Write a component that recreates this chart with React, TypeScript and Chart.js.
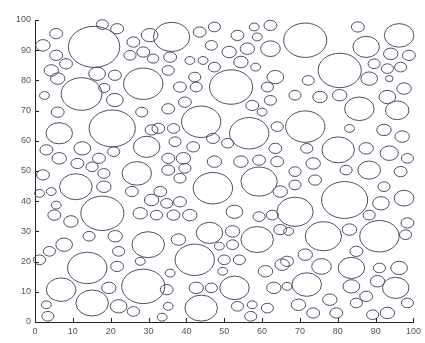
import { useEffect, useRef } from "react";
import { Chart, registerables } from "chart.js";
Chart.register(...registerables);

// circle centres (x, y) and radii, in data units
const circleX = [
  15.6, 17.8, 21.7, 5.6, 2.1, 5.6, 8.2, 4.3, 6.0, 12.3, 16.4, 21.1, 18.3, 21.1, 2.5, 28.6, 30.3, 26, 25.1, 28.6, 31.2, 6.0, 28.2,
  36.1, 43.5, 47.4, 46.6, 53.5, 57.9, 58.7, 62.2, 62.2, 56.1, 51.3, 35.7, 40.9, 44.4, 35.2, 47.4, 54.4, 58.3, 51.8, 42.2, 38.3, 42.6, 63.5, 61.4, 62.2, 39.6, 35.2, 57.4, 60,
  71.4, 85.3, 96.2, 87.5, 94, 98.8, 89.6, 93.1, 96.6, 88.3, 93.6, 80.5, 72.2, 68.7, 75.3, 80.5, 93.1, 97.5, 85.7, 95.7,
  6.4, 20.4, 30.8, 29.5, 3, 12.5, 20.8, 6.4, 11.2, 16.9, 15.1, 18.2, 2.1, 26.9, 10.8, 18.2, 1.2, 4.3, 25.6, 5.6, 5.1, 17.8, 27.8, 30.8, 32.1,
  43.9, 56.6, 32.6, 36.6, 64, 37, 41.8, 47, 50.9, 63.5, 35.2, 39.2, 39.6, 35.2, 47.4, 54.4, 59.2, 64, 38.3, 47, 59.2, 33.1, 64.8, 34.8, 38.3, 40.9, 36.6, 52.7, 59.2, 62.7,
  71.4, 83.1, 92.2, 97, 71.8, 80.1, 87.5, 93.6, 98.4, 73.5, 68.7, 82.2, 88.3, 96.6, 74, 68.7, 92.2, 81.8, 97.5, 91.4, 68.7, 88.3,
  9.5, 14.3, 21.2, 7.7, 3.8, 1.2, 22.1, 29.9, 13.8, 21.7, 27.8, 6.9, 15.1, 19.5, 28.6, 22.1, 3, 3.4, 26, 33.6,
  46.1, 52.2, 58.7, 64.8, 37.9, 48.7, 52.2, 42.2, 50, 54, 49.6, 60.9, 65.3, 35.7, 34.8, 42.6, 46.6, 52.7, 63.1, 35.2, 43.9, 53.5, 57.4, 57, 61.4,
  76.2, 91, 83.1, 97.9, 98.4, 67, 71.4, 84.9, 66.6, 75.7, 83.6, 91, 96.2, 71.8, 83.6, 90.5, 95.3, 77.9, 87.5, 66.6, 69.6, 73.5, 79.6, 84.9, 89.2, 93.1, 98.4,
];
const circleY = [
  91.1, 98.5, 97.1, 95.5, 91.6, 88.3, 85.5, 83.3, 80.6, 75.5, 82.2, 81.7, 77.5, 73.5, 75, 78.9, 95, 92.7, 88.3, 89.4, 87.2, 69.5, 69.5,
  94.4, 96, 97.7, 91.6, 94.9, 97.7, 94.4, 98.2, 90.5, 90.5, 89.4, 87.7, 86.6, 86.6, 83.3, 84.4, 86.1, 84.4, 77.8, 81.1, 77.8, 77.8, 81.1, 77.8, 73.4, 72.8, 70.6, 71.7, 69.5,
  93.3, 97.7, 94.9, 91.1, 88.8, 88.3, 85.5, 83.9, 84.4, 80.6, 80.6, 83.3, 80, 75.1, 74.5, 75.1, 74.5, 77.3, 70.6, 70.1,
  62.5, 64.1, 63.6, 58, 57, 57.5, 56.4, 54.2, 52.5, 54.2, 51.4, 49.2, 48.7, 49.2, 44.8, 44.8, 42.6, 43.2, 43.2, 38.7, 35.4, 36, 36, 40.4, 35.4,
  66.3, 62.5, 64.1, 64.1, 64.7, 59.7, 58, 60.8, 59.2, 57.5, 54.2, 54.2, 50.9, 50.3, 53.1, 53.1, 53.6, 53.1, 47.6, 44.3, 46.5, 43.2, 43.2, 39.3, 39.8, 35.4, 35.4, 36.5, 34.9, 35.4,
  64.7, 64.1, 63.6, 61.4, 57.5, 57, 57.5, 55.9, 54.2, 52.5, 49.8, 50.3, 50.3, 49.8, 47, 45.4, 44.8, 40.4, 41, 39.3, 36.5, 35.4,
  33.3, 28.4, 28.4, 25.6, 23.4, 20.6, 23.4, 25.6, 17.9, 18.4, 20.1, 10.7, 6.3, 11.3, 11.8, 5.2, 5.7, 1.9, 3.5, 1.6,
  29.5, 30, 27.3, 30.6, 27.3, 25.1, 25.6, 20.6, 20.6, 20.6, 16.8, 16.8, 19, 16.2, 10.7, 11.3, 11.3, 11.3, 11.3, 5.2, 4.6, 5.2, 5.7, 1.9, 4.6,
  28.4, 28.4, 30.6, 28.9, 32.8, 30, 22.3, 23.4, 20.1, 18.4, 17.9, 17.9, 17.9, 12.4, 11.8, 13.5, 11.3, 7.4, 8.5, 11.8, 5.7, 3, 3, 6.3, 2.4, 3, 6.3,
];
const circleR = [
  6.8, 1.6, 1.7, 1.7, 1.9, 1.7, 1.7, 1.9, 1.9, 5.4, 2.2, 1.7, 1.5, 2.2, 1.3, 5.2, 2.2, 1.7, 1.6, 1.7, 1.5, 1.7, 1.6,
  4.8, 1.7, 1.6, 1.6, 1.7, 1.3, 1.3, 1.7, 2.6, 1.9, 1.9, 1.7, 1.3, 1.3, 1.6, 1.6, 1.9, 1.3, 5.7, 1.6, 1.7, 1.6, 2.2, 1.6, 1.6, 1.7, 1.7, 1.7, 1.3,
  5.7, 1.7, 3.9, 3.5, 1.9, 1.7, 1.6, 1.6, 1.6, 2.2, 1.0, 5.7, 1.6, 1.6, 1.9, 1.9, 2.2, 1.9, 3.9, 3.1,
  3.5, 6.1, 1.7, 3.5, 1.7, 2.2, 1.6, 1.9, 1.7, 1.7, 1.6, 1.6, 1.7, 3.9, 4.3, 1.9, 1.3, 1.3, 1.7, 1.3, 1.7, 5.7, 1.9, 1.9, 1.6,
  5.2, 5.2, 1.7, 1.6, 1.6, 1.6, 1.7, 1.7, 1.6, 1.7, 1.7, 1.9, 1.6, 1.7, 1.9, 1.9, 1.7, 1.7, 1.6, 5.2, 4.8, 1.7, 1.9, 1.6, 1.7, 1.9, 1.7, 2.2, 1.6, 1.6,
  5.2, 1.3, 1.9, 1.9, 1.6, 4.3, 1.9, 2.4, 1.6, 1.9, 1.6, 1.6, 3.0, 1.7, 1.7, 1.6, 1.6, 6.1, 2.6, 2.2, 4.8, 1.6,
  1.9, 1.6, 1.9, 2.2, 1.6, 1.6, 1.6, 4.3, 5.2, 1.7, 1.3, 3.9, 4.3, 1.9, 5.7, 2.2, 1.3, 1.6, 1.6, 1.3,
  3.5, 1.9, 4.3, 1.7, 1.9, 1.3, 1.6, 5.2, 1.6, 1.6, 1.3, 1.9, 1.9, 1.3, 1.7, 1.9, 1.6, 3.9, 1.9, 1.3, 4.3, 1.6, 1.3, 1.6, 1.6,
  4.8, 5.2, 1.9, 1.6, 1.7, 1.3, 1.9, 1.7, 1.7, 2.6, 3.5, 1.6, 2.2, 3.9, 2.2, 1.9, 3.5, 1.9, 1.7, 1.3, 1.9, 1.7, 1.7, 1.6, 1.6, 1.9, 1.6,
];
const xTickValues = [0, 10, 20, 30, 40, 50, 60, 70, 80, 90, 100];
const yTickValues = [0, 10, 20, 30, 40, 50, 60, 70, 80, 90, 100];

const circlePlugin = {
  id: "circles",
  afterDatasetsDraw(chart: any) {
    const { ctx } = chart;
    const xs = chart.scales.x;
    const ys = chart.scales.y;
    ctx.save();
    ctx.strokeStyle = "#4b4d66";
    ctx.lineWidth = 1;
    for (let i = 0; i < circleX.length; i++) {
      const cx = xs.getPixelForValue(circleX[i]);
      const cy = ys.getPixelForValue(circleY[i]);
      const rx = Math.abs(xs.getPixelForValue(circleX[i] + circleR[i]) - cx);
      const ry = Math.abs(ys.getPixelForValue(circleY[i] + circleR[i]) - cy);
      ctx.beginPath();
      ctx.ellipse(cx, cy, rx, ry, 0, 0, Math.PI * 2);
      ctx.stroke();
    }
    ctx.restore();
  },
};

const inwardTicks = {
  id: "inwardTicks",
  afterDraw(chart: any) {
    const { ctx, chartArea } = chart;
    const xs = chart.scales.x;
    const ys = chart.scales.y;
    ctx.save();
    ctx.strokeStyle = "#222";
    ctx.lineWidth = 1;
    ctx.beginPath();
    xTickValues.forEach((v) => {
      const p = Math.round(xs.getPixelForValue(v)) + 0.5;
      ctx.moveTo(p, chartArea.bottom);
      ctx.lineTo(p, chartArea.bottom - 4);
    });
    yTickValues.forEach((v) => {
      const p = Math.round(ys.getPixelForValue(v)) + 0.5;
      ctx.moveTo(chartArea.left, p);
      ctx.lineTo(chartArea.left + 4, p);
    });
    ctx.stroke();
    ctx.restore();
  },
};

export default function App() {
  const ref = useRef<HTMLCanvasElement | null>(null);
  useEffect(() => {
    if (!ref.current) return;
    const chart = new Chart(ref.current, {
      type: "scatter",
      data: {
        datasets: [
          {
            data: circleX.map((x, i) => ({ x, y: circleY[i] })),
            pointRadius: 0,
            pointHoverRadius: 0,
          },
        ],
      },
      options: {
        responsive: false,
        animation: false,
        events: [],
        layout: { padding: { top: 20, right: 7, left: 0, bottom: 0 } },
        plugins: { legend: { display: false }, tooltip: { enabled: false } },
        scales: {
          x: {
            type: "linear",
            min: 0,
            max: 100,
            afterFit: (s: any) => {
              s.height = 21;
            },
            afterBuildTicks: (s: any) => {
              s.ticks = xTickValues.map((v) => ({ value: v }));
            },
            grid: { display: true, drawOnChartArea: false, drawTicks: false },
            border: { display: true, color: "#222", width: 1 },
            ticks: {
              padding: 4,
              maxRotation: 0,
              autoSkip: false,
              color: "#555",
              font: { family: "Liberation Sans", size: 9 },
            },
          },
          y: {
            type: "linear",
            min: 0,
            max: 100,
            afterFit: (s: any) => {
              s.width = 35;
            },
            afterBuildTicks: (s: any) => {
              s.ticks = yTickValues.map((v) => ({ value: v }));
            },
            grid: { display: true, drawOnChartArea: false, drawTicks: false },
            border: { display: true, color: "#222", width: 1 },
            ticks: {
              padding: 4,
              autoSkip: false,
              color: "#555",
              font: { family: "Liberation Sans", size: 9 },
            },
          },
        },
      },
      plugins: [circlePlugin, inwardTicks],
    });
    return () => chart.destroy();
  }, []);
  return (
    <div style={{ position: "fixed", left: 0, top: 0, width: 425, height: 343, background: "#fff" }}>
      <canvas ref={ref} width={425} height={343} style={{ width: 425, height: 343 }} />
    </div>
  );
}
